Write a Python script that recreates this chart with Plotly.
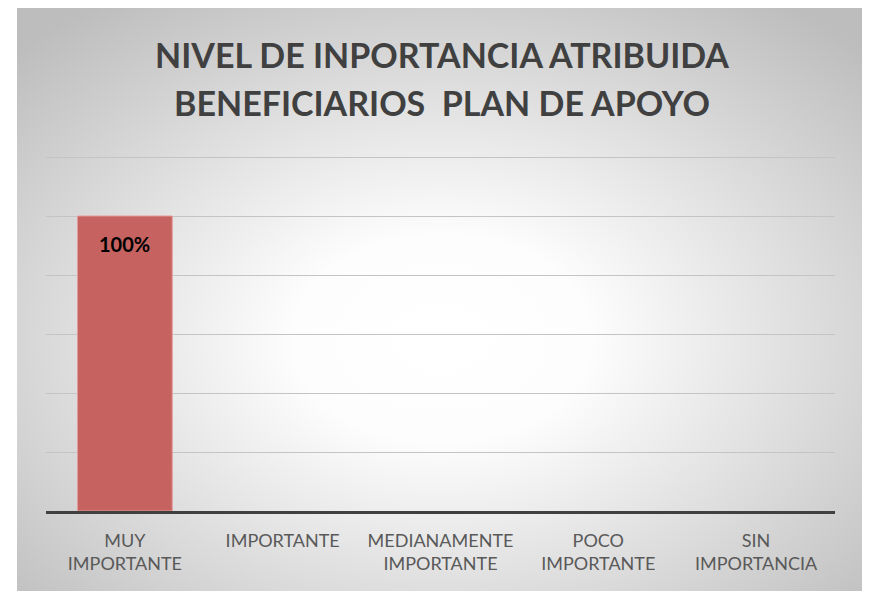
"""
Bar chart: nivel de importancia atribuida por beneficiarios del plan de apoyo.
"""
import base64
import plotly.graph_objects as go

categories = ["MUY<br>IMPORTANTE", "IMPORTANTE", "MEDIANAMENTE<br>IMPORTANTE",
              "POCO<br>IMPORTANTE", "SIN<br>IMPORTANCIA"]
values = [1.0, 0, 0, 0, 0]
labels = [f"{v:.0%}" if v > 0 else "" for v in values]
y_ticks = [0.2, 0.4, 0.6, 0.8, 1.0, 1.2]

title_lines = ["NIVEL DE INPORTANCIA ATRIBUIDA", "BENEFICIARIOS  PLAN DE APOYO"]

# radial grey-to-white background, drawn as an svg image behind the chart
svg = """<svg xmlns='http://www.w3.org/2000/svg' width='849' height='587' preserveAspectRatio='none'>
<defs><radialGradient id='g' cx='50%' cy='57%' r='70%'>
<stop offset='0%' stop-color='#ffffff'/><stop offset='25%' stop-color='#fdfdfd'/>
<stop offset='100%' stop-color='#bdbdbd'/></radialGradient></defs>
<rect width='849' height='587' fill='url(#g)'/></svg>"""
bg_src = "data:image/svg+xml;base64," + base64.b64encode(svg.encode()).decode()

# the page adds an 8px body margin, so the figure is a bit smaller than the window
W, H = 862, 583
L, R, T, B = 38, 35, 146, 80
pw, ph = W - L - R, H - T - B
# top of the scale sits 3px below the plot edge so its gridline is drawn
y_top = y_ticks[-1] * ph / (ph - 3)

fig = go.Figure()
fig.add_trace(go.Bar(
    x=categories,
    y=values,
    marker=dict(color="#C6625F",
                line=dict(color="#E39A97", width=[1 if v > 0 else 0 for v in values])),
    width=0.6,
    hoverinfo="skip",
))

for c, v, t in zip(categories, values, labels):
    if t:
        fig.add_annotation(x=c, y=v, text=f"<b>{t}</b>", showarrow=False,
                           yanchor="top", yshift=-14,
                           font=dict(family="Lato", size=20, color="#000000"))

# title, one line per annotation so the line spacing matches
for i, line in enumerate(title_lines):
    fig.add_annotation(
        text=f"<b>{line}</b>", xref="paper", yref="paper",
        x=(433.5 - L) / pw, y=(H - B - (46 + 48 * i)) / ph,
        xanchor="center", yanchor="middle", showarrow=False,
        font=dict(family="Lato", size=34, color="#404040"),
    )

fig.add_layout_image(
    source=bg_src, xref="paper", yref="paper",
    x=(9 - L) / pw, y=(H - B + 4) / ph, sizex=849 / pw, sizey=(H + 4) / ph,
    xanchor="left", yanchor="top", sizing="stretch", layer="below",
)

fig.update_layout(
    width=W, height=H,
    margin=dict(l=L, r=R, t=T, b=B),
    paper_bgcolor="white",
    plot_bgcolor="rgba(0,0,0,0)",
    showlegend=False,
    xaxis=dict(
        showgrid=False, ticks="", showline=True, linecolor="#404040", linewidth=3,
        tickfont=dict(family="Lato", size=18, color="#595959"),
        ticklabelstandoff=11,
    ),
    yaxis=dict(
        range=[0, y_top], tickvals=y_ticks,
        showticklabels=False, ticks="",
        showgrid=True, gridcolor="#c4c4c4", gridwidth=1.3, zeroline=False,
    ),
)

fig.write_html("out.html")
